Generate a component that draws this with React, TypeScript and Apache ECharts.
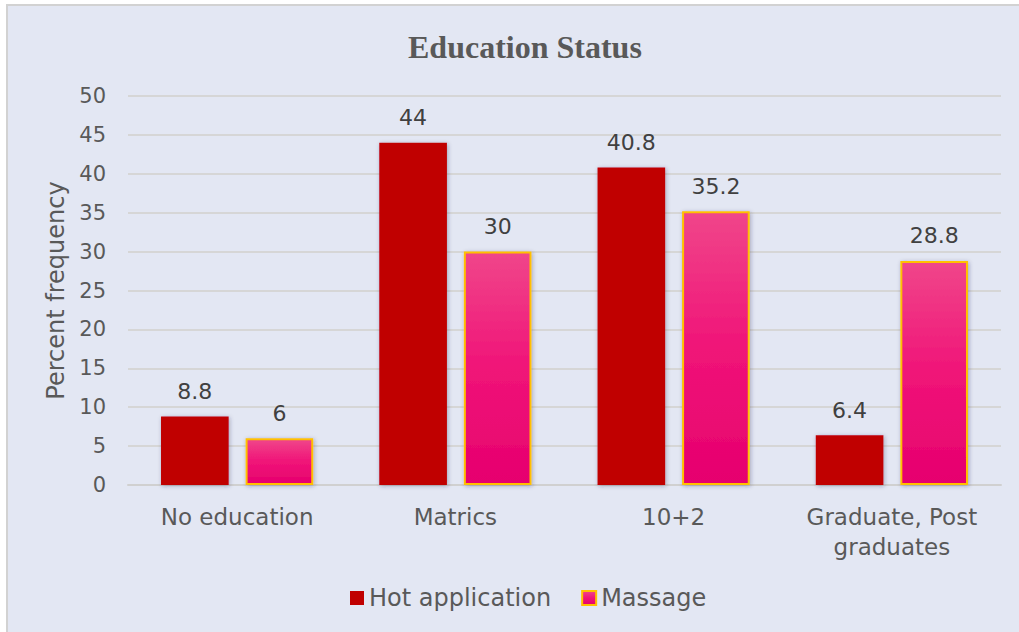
import React, { useEffect, useRef } from "react";
import * as echarts from "echarts";

const categories = ["No education", "Matrics", "10+2", "Graduate, Post\ngraduates"];
const hotApplication = [8.8, 44, 40.8, 6.4];
const massage = [6, 30, 35.2, 28.8];
const seriesNames = ["Hot application", "Massage"];

const FONT = "'DejaVu Sans', sans-serif";

export default function App() {
  const ref = useRef<HTMLDivElement>(null);
  useEffect(() => {
    if (!ref.current) return;
    const chart = echarts.init(ref.current, undefined, { renderer: "svg" });
    const shadow = { shadowColor: "rgba(40,40,80,0.35)", shadowBlur: 4, shadowOffsetX: 1, shadowOffsetY: 1 };
    chart.setOption({
      animation: false,
      backgroundColor: "#ffffff",
      graphic: [
        {
          type: "rect",
          z: -10,
          shape: { x: 7, y: 5, width: 1030, height: 640 },
          style: { fill: "#E3E7F3", stroke: "#D2D2D2", lineWidth: 2 },
          silent: true,
        },
      ],
      title: {
        text: "Education Status",
        left: 403,
        top: 26,
        textStyle: { fontFamily: "'Liberation Serif', serif", fontWeight: "bold", fontSize: 32, color: "#595959" },
      },
      grid: { left: 128, right: 18, top: 96, bottom: 147 },
      legend: {
        bottom: 17,
        left: 345,
        itemWidth: 14,
        itemHeight: 14,
        itemGap: 30,
        textStyle: { fontFamily: FONT, fontSize: 24, color: "#595959" },
        data: [
          { name: seriesNames[0], icon: "rect" },
          { name: seriesNames[1], icon: "rect" },
        ],
      },
      xAxis: {
        type: "category",
        data: categories,
        axisTick: { show: false },
        axisLine: { lineStyle: { color: "#D0D0D0", width: 2 } },
        axisLabel: { interval: 0, fontFamily: FONT, fontSize: 23, color: "#595959", margin: 17, lineHeight: 30 },
      },
      yAxis: {
        type: "value",
        min: 0,
        max: 50,
        interval: 5,
        name: "Percent frequency",
        nameLocation: "middle",
        nameGap: 60,
        nameTextStyle: { fontFamily: FONT, fontSize: 24, color: "#595959" },
        axisLine: { show: false },
        axisTick: { show: false },
        axisLabel: { fontFamily: FONT, fontSize: 21, color: "#595959", margin: 22 },
        splitLine: { lineStyle: { color: "#D6D6D6", width: 2 } },
      },
      series: [
        {
          name: seriesNames[0],
          type: "bar",
          data: hotApplication,
          barWidth: "31%",
          barGap: "25%",
          itemStyle: { color: "#C00000", ...shadow },
          label: { show: true, position: "top", distance: 14, fontFamily: FONT, fontSize: 22, color: "#404040" },
        },
        {
          name: seriesNames[1],
          type: "bar",
          data: massage,
          barWidth: "31%",
          itemStyle: {
            color: new echarts.graphic.LinearGradient(0, 0, 0, 1, [
              { offset: 0, color: "#F0468A" },
              { offset: 0.5, color: "#F01478" },
              { offset: 1, color: "#E6006E" },
            ]),
            borderColor: "#FFC000",
            borderWidth: 2,
            ...shadow,
          },
          label: { show: true, position: "top", distance: 14, fontFamily: FONT, fontSize: 22, color: "#404040" },
        },
      ],
    });
    return () => chart.dispose();
  }, []);
  return (
    <div
      ref={ref}
      style={{ position: "fixed", left: 0, top: 0, width: 1019, height: 632 }}
    />
  );
}
